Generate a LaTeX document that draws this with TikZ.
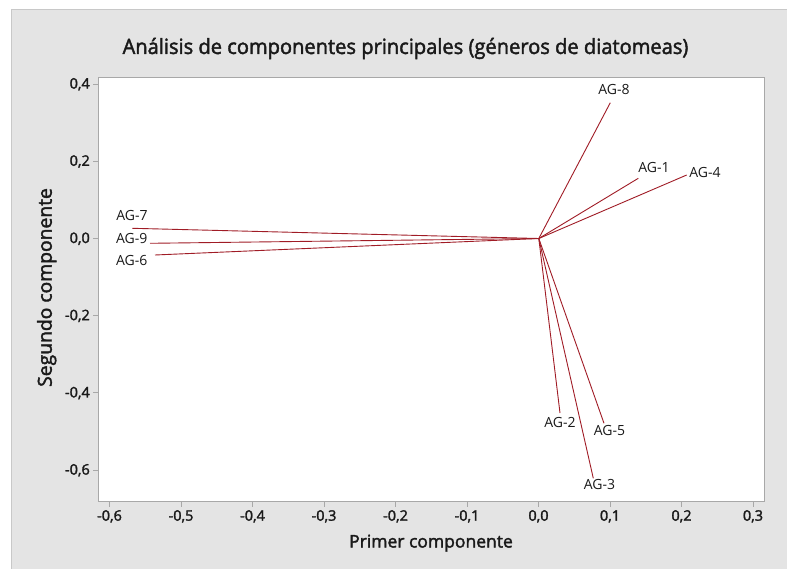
\documentclass[tikz,border=0pt]{standalone}
\usepackage{fontspec}
\setmainfont{Open Sans}
\newfontfamily\semib[FakeBold=2]{Open Sans}
\newfontfamily\titlef[FakeBold=2,FakeStretch=0.957]{Open Sans}
\definecolor{bgray}{HTML}{E4E4E4}
\definecolor{bline}{HTML}{C8C8C8}
\definecolor{fline}{HTML}{A8A8A8}
\definecolor{vec}{RGB}{160,28,38}
\definecolor{txt}{HTML}{1A1A1A}
\tikzset{
  vecline/.style={draw=vec, line width=0.9pt},
  aglabel/.style={anchor=base, inner sep=0pt, text=txt, font=\fontsize{14}{16}\selectfont},
  ytl/.style={anchor=base east, inner sep=0pt, text=txt, font=\semib\fontsize{14.5}{16}\selectfont},
  xtl/.style={anchor=base, inner sep=0pt, text=txt, font=\semib\fontsize{14.5}{16}\selectfont},
  tickmark/.style={draw=fline, line width=0.8pt},
}
\begin{document}
\begin{tikzpicture}[x=1pt,y=-1pt]
\useasboundingbox (0,0) rectangle (787,569);
% background
\fill[bgray] (11,9) rectangle (787,569);
\draw[bline, line width=0.8pt] (11,569) -- (11,9) -- (787,9);
% plot area
\fill[white] (98,77) rectangle (764.3,501.7);
\draw[fline, line width=0.9pt] (98,77) rectangle (764.3,501.7);
% title
\node[anchor=base, inner sep=0pt, text=txt, font=\titlef\fontsize{21}{24}\selectfont] (title) at (405.5,54) {Análisis de componentes principales (géneros de diatomeas)};
% axis labels
\node[anchor=base, inner sep=0pt, text=txt, font=\semib\fontsize{17.5}{20}\selectfont] (xlab) at (431,547.5) {Primer componente};
\node[anchor=base, rotate=90, inner sep=0pt, text=txt, font=\semib\fontsize{19.3}{22}\selectfont] (ylab) at (51.7,287.5) {Segundo componente};
% x ticks
\foreach \v/\t in {-0.6/{-0,6},-0.5/{-0,5},-0.4/{-0,4},-0.3/{-0,3},-0.2/{-0,2},-0.1/{-0,1},0/{0,0},0.1/{0,1},0.2/{0,2},0.3/{0,3}}{
  \pgfmathsetmacro{\px}{538.5+715*\v}
  \draw[tickmark] (\px,501.7) -- (\px,507);
  \node[xtl] at (\px,520.7) {\t};
}
% y ticks
\foreach \v/\t in {0.4/{0,4},0.2/{0,2},0/{0,0},-0.2/{-0,2},-0.4/{-0,4},-0.6/{-0,6}}{
  \pgfmathsetmacro{\py}{238.5-386*\v}
  \draw[tickmark] (93,\py) -- (98,\py);
  \node[ytl] at (90,\py+4.5) {\t};
}
% vectors
\coordinate (O) at (538.8,238.5);
\coordinate (e8) at (610.3,102.7);
\coordinate (e1) at (638.3,178.3);
\coordinate (e4) at (686.7,175);
\coordinate (e7) at (132.3,228.3);
\coordinate (e9) at (150,243.3);
\coordinate (e6) at (155,255);
\coordinate (e2) at (560,413);
\coordinate (e5) at (604,423.3);
\coordinate (e3) at (593.3,478.3);
\foreach \e in {e8,e1,e4,e7,e9,e6,e2,e5,e3}{\draw[vecline] (O) -- (\e);}
% labels
\node[aglabel] (l8) at (614,94.3) {AG-8};
\node[aglabel] (l1) at (654,172.7) {AG-1};
\node[aglabel] (l4) at (705,177.3) {AG-4};
\node[aglabel] (l7) at (132,221) {AG-7};
\node[aglabel] (l9) at (131.7,243.3) {AG-9};
\node[aglabel] (l6) at (131.7,265.7) {AG-6};
\node[aglabel] (l2) at (560,427.7) {AG-2};
\node[aglabel] (l5) at (609.5,435) {AG-5};
\node[aglabel] (l3) at (599.5,489.3) {AG-3};
\end{tikzpicture}
\end{document}
